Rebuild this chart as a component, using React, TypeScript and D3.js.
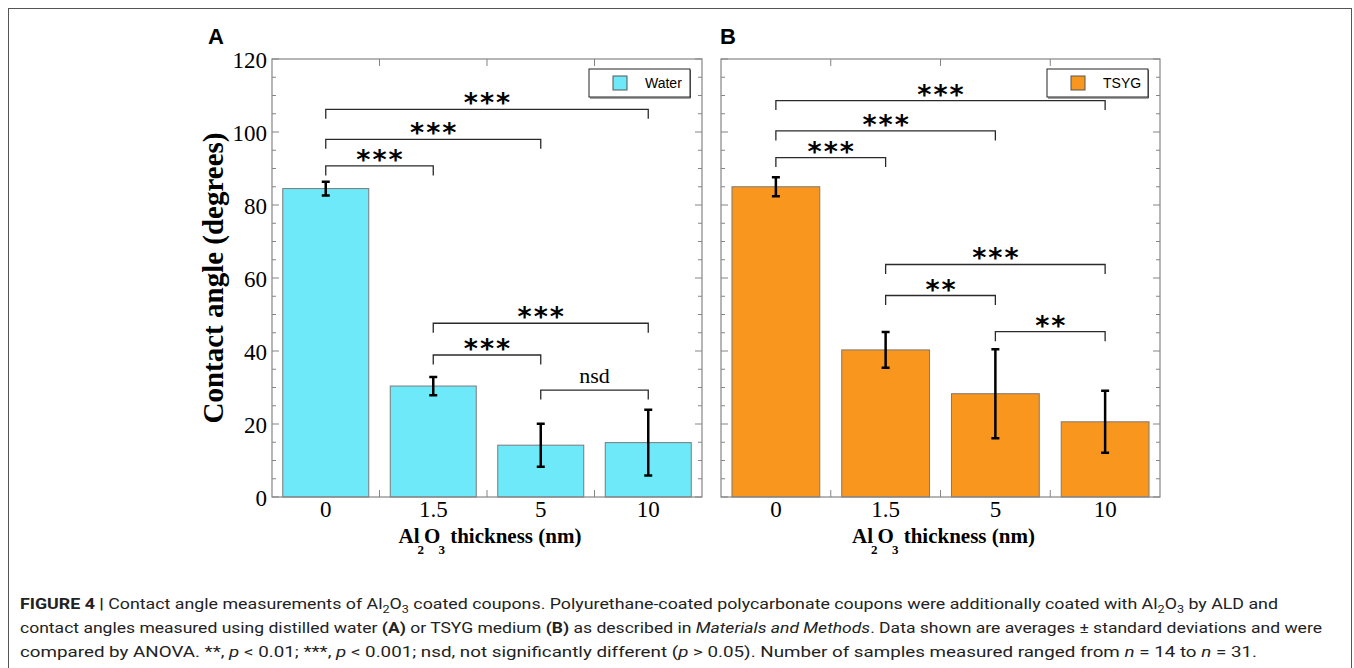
import React, { useEffect, useRef } from "react";
import * as d3 from "d3";

// thickness categories (nm)
const categories = ["0", "1.5", "5", "10"];

// panel A - distilled water
const waterMean = [84.5, 30.4, 14.2, 14.9];
const waterSd = [1.9, 2.5, 5.9, 9.0];
const waterPairs = [["0", "1.5"], ["0", "5"], ["0", "10"], ["1.5", "5"], ["1.5", "10"], ["5", "10"]];
const waterBracketY = [90.7, 98.0, 106.2, 38.9, 47.6, 29.3];
const waterSig = ["***", "***", "***", "***", "***", "nsd"];

// panel B - TSYG medium
const tsygMean = [85.0, 40.3, 28.3, 20.6];
const tsygSd = [2.6, 4.9, 12.2, 8.5];
const tsygPairs = [["0", "1.5"], ["0", "5"], ["0", "10"], ["1.5", "5"], ["1.5", "10"], ["5", "10"]];
const tsygBracketY = [93.0, 100.3, 108.6, 55.2, 63.7, 45.3];
const tsygSig = ["***", "***", "***", "**", "***", "**"];

const yTicks = [0, 20, 40, 60, 80, 100, 120];

const SERIF = "'Liberation Serif', 'Times New Roman', serif";
const SANS = "'Liberation Sans', Arial, sans-serif";

function drawPanel(root, p) {
  const g = root.append("g");
  const x = d3
    .scaleBand()
    .domain(categories)
    .range([p.left, p.left + p.width])
    .paddingInner(0.2)
    .paddingOuter(0.1);
  const y = d3.scaleLinear().domain([0, 120]).range([p.top + p.height, p.top]);
  const bw = x.bandwidth();

  // bars
  g.selectAll("rect.bar")
    .data(p.mean)
    .join("rect")
    .attr("x", (d, i) => x(categories[i]))
    .attr("y", (d) => y(d))
    .attr("width", bw)
    .attr("height", (d) => y(0) - y(d))
    .attr("fill", p.color)
    .attr("stroke", "#7a7a7a")
    .attr("stroke-width", 1);

  // frame
  g.append("rect")
    .attr("x", p.left)
    .attr("y", p.top)
    .attr("width", p.width)
    .attr("height", p.height)
    .attr("fill", "none")
    .attr("stroke", "#858585")
    .attr("stroke-width", 1.2);

  // y ticks, inward on both sides
  d3.range(0, 121, 5).forEach((v) => {
    const len = v % 20 === 0 ? 7 : 4;
    g.append("line")
      .attr("x1", p.left).attr("x2", p.left + len)
      .attr("y1", y(v)).attr("y2", y(v))
      .attr("stroke", "#858585");
    g.append("line")
      .attr("x1", p.left + p.width - len).attr("x2", p.left + p.width)
      .attr("y1", y(v)).attr("y2", y(v))
      .attr("stroke", "#858585");
  });

  // x ticks at the band borders
  categories.slice(1).forEach((c) => {
    const bx = x(c) - x.step() * 0.1;
    g.append("line").attr("x1", bx).attr("x2", bx).attr("y1", p.top).attr("y2", p.top + 7).attr("stroke", "#858585");
    g.append("line").attr("x1", bx).attr("x2", bx).attr("y1", y(0)).attr("y2", y(0) - 7).attr("stroke", "#858585");
  });

  // tick labels
  if (p.yLabels) {
    g.selectAll("text.ytick")
      .data(yTicks)
      .join("text")
      .attr("x", p.left - 5)
      .attr("y", (d) => y(d) + 8.5)
      .attr("text-anchor", "end")
      .style("font-family", SERIF)
      .style("font-size", "23px")
      .text((d) => d);
  }
  g.selectAll("text.xtick")
    .data(categories)
    .join("text")
    .attr("x", (d) => x(d) + bw / 2)
    .attr("y", y(0) + 20)
    .attr("text-anchor", "middle")
    .style("font-family", SERIF)
    .style("font-size", "23px")
    .text((d) => d);

  // error bars
  p.mean.forEach((m, i) => {
    const cx = x(categories[i]) + bw / 2;
    const lo = y(m - p.sd[i]);
    const hi = y(m + p.sd[i]);
    g.append("path")
      .attr("d", `M${cx},${lo}V${hi}M${cx - 4},${lo}H${cx + 4}M${cx - 4},${hi}H${cx + 4}`)
      .attr("fill", "none")
      .attr("stroke", "#000")
      .attr("stroke-width", 2.5);
  });

  // significance brackets
  p.pairs.forEach((pair, i) => {
    const x1 = x(pair[0]) + bw / 2;
    const x2 = x(pair[1]) + bw / 2;
    const by = y(p.bracketY[i]);
    g.append("path")
      .attr("d", `M${x1},${by + 9.5}V${by}H${x2}V${by + 9.5}`)
      .attr("fill", "none")
      .attr("stroke", "#2a2a2a")
      .attr("stroke-width", 1.3);
    const label = p.sig[i];
    if (label === "nsd") {
      g.append("text")
        .attr("x", (x1 + x2) / 2)
        .attr("y", by - 7)
        .attr("text-anchor", "middle")
        .style("font-family", SERIF)
        .style("font-size", "22px")
        .text(label);
    } else {
      g.append("text")
        .attr("x", (x1 + x2) / 2 + 1)
        .attr("y", by + 3)
        .attr("text-anchor", "middle")
        .style("font-family", "'DejaVu Sans', sans-serif")
        .style("font-weight", "bold")
        .style("font-size", "27px")
        .style("letter-spacing", "2px")
        .text(label);
    }
  });

  // legend
  const lx = p.left + p.width - 12 - 101;
  const ly = p.top + 10;
  g.append("rect").attr("x", lx).attr("y", ly).attr("width", 101).attr("height", 28)
    .attr("fill", "#fff").attr("stroke", "#222").attr("stroke-width", 1);
  g.append("path").attr("d", `M${lx + 101.5},${ly + 1}V${ly + 29}H${lx + 1}`)
    .attr("fill", "none").attr("stroke", "#444").attr("stroke-width", 1);
  g.append("rect").attr("x", lx + 24).attr("y", ly + 7).attr("width", 14).attr("height", 14)
    .attr("fill", p.color).attr("stroke", "#555").attr("stroke-width", 1);
  g.append("text").attr("x", lx + 56).attr("y", ly + 18.7)
    .style("font-family", SANS).style("font-size", "14px").text(p.legend);

  // panel letter
  g.append("text").attr("x", p.letterX).attr("y", 44)
    .style("font-family", SANS).style("font-weight", "bold").style("font-size", "22px").text(p.letter);

  // x axis title with subscripts
  const xt = g.append("text")
    .attr("x", p.left + p.width / 2 + 3)
    .attr("y", 543)
    .attr("text-anchor", "middle")
    .style("font-family", SERIF)
    .style("font-weight", "bold")
    .style("font-size", "21px");
  xt.append("tspan").text("Al");
  xt.append("tspan").attr("dx", -2).attr("dy", 11).style("font-size", "13px").text("2");
  xt.append("tspan").attr("dy", -11).text("O");
  xt.append("tspan").attr("dx", -2).attr("dy", 11).style("font-size", "13px").text("3");
  xt.append("tspan").attr("dy", -11).text(" thickness (nm)");

  if (p.yTitle) {
    g.append("text")
      .attr("transform", `translate(223,${p.top + p.height / 2}) rotate(-90)`)
      .attr("text-anchor", "middle")
      .style("font-family", SERIF)
      .style("font-weight", "bold")
      .style("font-size", "29px")
      .text(p.yTitle);
  }
}

export default function App() {
  const ref = useRef(null);

  useEffect(() => {
    const root = d3.select(ref.current);
    root.selectAll("*").remove();
    drawPanel(root, {
      left: 272, top: 59, width: 430, height: 438,
      mean: waterMean, sd: waterSd, pairs: waterPairs, bracketY: waterBracketY, sig: waterSig,
      color: "#6ee9f9", legend: "Water", letter: "A", letterX: 208,
      yLabels: true, yTitle: "Contact angle (degrees)",
    });
    drawPanel(root, {
      left: 721, top: 59, width: 439, height: 438,
      mean: tsygMean, sd: tsygSd, pairs: tsygPairs, bracketY: tsygBracketY, sig: tsygSig,
      color: "#f8961e", legend: "TSYG", letter: "B", letterX: 720,
      yLabels: false, yTitle: null,
    });
  }, []);

  const cap = { fontFamily: "'Liberation Sans Narrow', Roboto, sans-serif", fontSize: 15.5, fill: "#222" };

  return (
    <svg width={1354} height={668} style={{ position: "absolute", left: 0, top: 0, background: "#fff" }}>
      <rect x={8.5} y={8.5} width={1343} height={700} fill="#fff" stroke="#555" strokeWidth={1} />
      <g ref={ref} />
      <text x={20} y={609} style={cap} textLength={1258} lengthAdjust="spacingAndGlyphs">
        <tspan fontWeight="bold">FIGURE 4 | </tspan>Contact angle measurements of Al
        <tspan dy={4} fontSize={11}>2</tspan>
        <tspan dy={-4}>O</tspan>
        <tspan dy={4} fontSize={11}>3</tspan>
        <tspan dy={-4}> coated coupons. Polyurethane-coated polycarbonate coupons were additionally coated with Al</tspan>
        <tspan dy={4} fontSize={11}>2</tspan>
        <tspan dy={-4}>O</tspan>
        <tspan dy={4} fontSize={11}>3</tspan>
        <tspan dy={-4}> by ALD and</tspan>
      </text>
      <text x={20} y={633} style={cap} textLength={1302} lengthAdjust="spacingAndGlyphs">
        contact angles measured using distilled water <tspan fontWeight="bold">(A)</tspan> or TSYG medium <tspan fontWeight="bold">(B)</tspan> as described in <tspan fontStyle="italic">Materials and Methods</tspan>. Data shown are averages ± standard deviations and were
      </text>
      <text x={20} y={657} style={cap} textLength={1237} lengthAdjust="spacingAndGlyphs">
        compared by ANOVA. **, <tspan fontStyle="italic">p</tspan> &lt; 0.01; ***, <tspan fontStyle="italic">p</tspan> &lt; 0.001; nsd, not significantly different (<tspan fontStyle="italic">p</tspan> &gt; 0.05). Number of samples measured ranged from <tspan fontStyle="italic">n</tspan> = 14 to <tspan fontStyle="italic">n</tspan> = 31.
      </text>
    </svg>
  );
}
